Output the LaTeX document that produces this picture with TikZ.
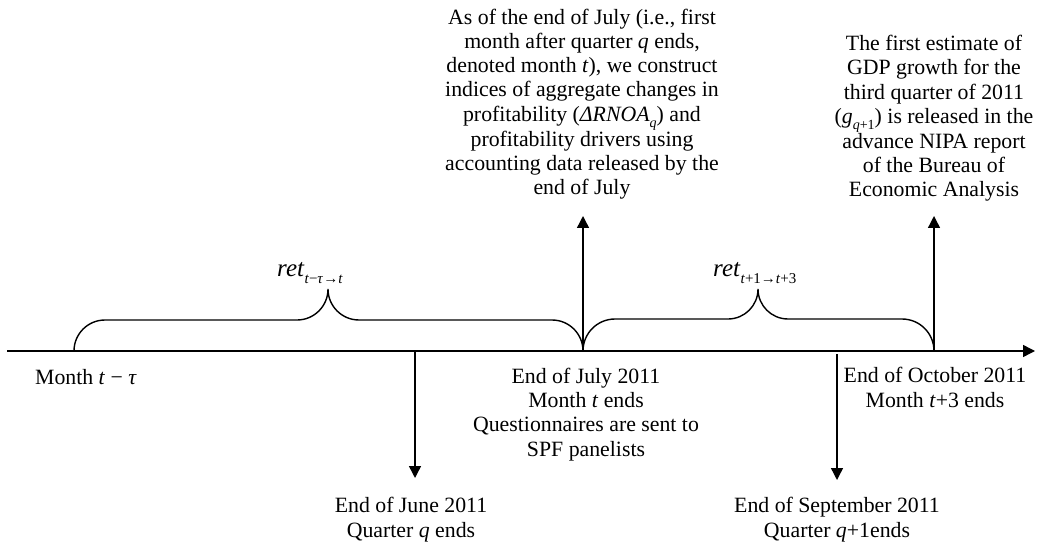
\documentclass[tikz,border=0pt]{standalone}
\usepackage{fontspec}
\setmainfont{Liberation Serif}
\usetikzlibrary{arrows.meta}
\newcommand\lowsub[2][14]{\raisebox{-0.28em}{\fontsize{#1}{#1}\selectfont #2}}
\begin{document}
\begin{tikzpicture}[x=1pt,y=-1pt,
  every node/.style={inner sep=0pt, font=\fontsize{21.8}{24.2}\selectfont, align=center},
  lbl/.style={anchor=base},
  retlbl/.style={anchor=base west, font=\fontsize{25}{25}\selectfont},
  arr/.style={line width=1.4pt,-{Triangle[length=12pt,width=12pt]}},
  brace/.style={line width=1.4pt}]
\useasboundingbox (0,0) rectangle (1040,545);
% axis
\coordinate (a0) at (7,351);
\coordinate (a1) at (1035,351);
\draw[arr] (a0) -- (a1);
% points on the axis
\coordinate (mtau) at (74,351);
\coordinate (july) at (583,351);
\coordinate (oct) at (934,351);
\coordinate (june) at (415,351);
\coordinate (sep) at (837,354);
\coordinate (julytop) at (583,216);
\coordinate (octtop) at (934,216);
\coordinate (junebot) at (415,478);
\coordinate (sepbot) at (837,480);
% arrows
\draw[arr] (july) -- (julytop);
\draw[arr] (oct) -- (octtop);
\draw[arr] (june) -- (junebot);
\draw[arr] (sep) -- (sepbot);
% braces
\draw[brace] (mtau) arc[start angle=180,end angle=270,radius=31] -- (297,320)
  arc[start angle=90,end angle=0,radius=31] coordinate (b1tip)
  arc[start angle=180,end angle=90,radius=31] -- (552,320)
  arc[start angle=270,end angle=360,radius=31];
\draw[brace] (july) arc[start angle=180,end angle=270,radius=32] -- (728,319)
  arc[start angle=90,end angle=0,radius=30] coordinate (b2tip)
  arc[start angle=180,end angle=90,radius=30] -- (902,319)
  arc[start angle=270,end angle=360,radius=32];
% brace labels
\node[retlbl] (r1) at (277,276) {\textit{ret}\lowsub[15]{\textit{t}−\textit{τ}→\textit{t}}};
\node[retlbl] (r2) at (713,276) {\textit{ret}\lowsub[15]{\textit{t}+1→\textit{t}+3}};
% upper texts (anchor = baseline of last line)
\node[lbl] (midtxt) at (582,195) {As of the end of July (i.e., first\\
month after quarter \textit{q} ends,\\
denoted month \textit{t}), we construct\\
indices of aggregate changes in\\
profitability (\textit{ΔRNOA}\lowsub{\textit{q}}) and\\
profitability drivers using\\
accounting data released by the\\
end of July};
\node[lbl] (righttxt) at (934,197) {The first estimate of\\
GDP growth for the\\
third quarter of 2011\\
(\textit{g}\lowsub{\textit{q}+1}) is released in the\\
advance NIPA report\\
of the Bureau of\\
Economic Analysis};
% lower texts
\node[lbl] (mtxt) at (86,384) {Month \textit{t} − \textit{τ}};
\node[lbl] (jultxt) at (586,456) {End of July 2011\\
Month \textit{t} ends\\
Questionnaires are sent to\\
SPF panelists};
\node[lbl] (octtxt) at (935,407) {End of October 2011\\
Month \textit{t}+3 ends};
\node[lbl] (juntxt) at (411,537) {End of June 2011\\
Quarter \textit{q} ends};
\node[lbl] (septxt) at (837,537) {End of September 2011\\
Quarter \textit{q}+1ends};
\end{tikzpicture}
\end{document}
